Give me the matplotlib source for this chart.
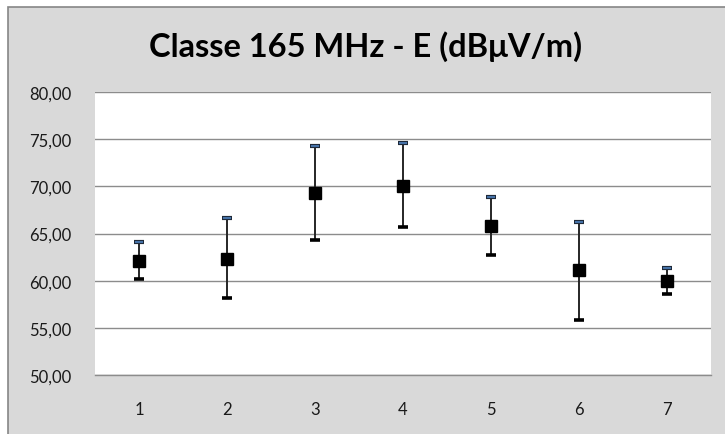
import matplotlib
matplotlib.use("Agg")
import matplotlib.pyplot as plt
from matplotlib.patches import Rectangle
import numpy as np

categories = ["1", "2", "3", "4", "5", "6", "7"]
mean_vals = [62.13, 62.34, 69.29, 70.06, 65.81, 61.13, 59.96]
upper_vals = [64.11, 66.66, 74.26, 74.57, 68.83, 66.17, 61.38]
lower_vals = [60.20, 58.19, 64.36, 65.64, 62.77, 55.85, 58.62]
y_ticks = [50, 55, 60, 65, 70, 75, 80]
y_tick_labels = ["50,00", "55,00", "60,00", "65,00", "70,00", "75,00", "80,00"]
title = "Classe 165 MHz - E (dBμV/m)"

W, H = 725, 435
fig = plt.figure(figsize=(W / 100, H / 100), dpi=100)
fig.patch.set_facecolor("white")

# gray chart panel with border
panel = Rectangle((8 / W, -0.01), 1.02, (H - 8) / H + 0.01, transform=fig.transFigure,
                  facecolor="#D9D9D9", edgecolor="#868686", linewidth=1.2, zorder=-10)
fig.patches.append(panel)

left, right, top, bottom = 95, 711, 93, 376
ax = fig.add_axes([left / W, 1 - bottom / H, (right - left) / W, (bottom - top) / H])
ax.set_zorder(2)
ax.set_facecolor("white")

x = np.arange(1, len(categories) + 1)
mean = np.array(mean_vals)
up = np.array(upper_vals)
lo = np.array(lower_vals)

ax.vlines(x, lo, up, color="#262626", linewidth=1.4, zorder=3)
# lower caps
ax.hlines(lo, x - 0.055, x + 0.055, color="black", linewidth=2.6, zorder=3)
# upper caps (dark outline with blue centre)
ax.hlines(up, x - 0.058, x + 0.058, color="#1F2A3A", linewidth=3.0, zorder=3)
ax.hlines(up, x - 0.048, x + 0.048, color="#4F81BD", linewidth=1.2, zorder=4)
ax.plot(x, mean, linestyle="none", marker="s", markersize=8.0, color="black", zorder=5)

ax.set_xlim(0.5, len(categories) + 0.5)
ax.set_ylim(50, 80)
ax.set_yticks(y_ticks)
ax.set_yticklabels(y_tick_labels)
ax.set_xticks(x)
ax.set_xticklabels(categories)
ax.yaxis.grid(True, color="#8C8C8C", linewidth=1.0)
ax.set_axisbelow(True)
for s in ["left", "right", "top"]:
    ax.spines[s].set_visible(False)
ax.spines["bottom"].set_color("#8C8C8C")
ax.spines["bottom"].set_linewidth(1.0)
ax.tick_params(axis="both", length=0, labelsize=12, labelcolor="#1a1a1a")
ax.tick_params(axis="y", pad=17)
ax.tick_params(axis="x", pad=19)
for lab in ax.get_xticklabels() + ax.get_yticklabels():
    lab.set_fontfamily("Lato")

fig.text(366 / W, 1 - 47 / H, title, ha="center", va="center", fontsize=23.5,
         fontfamily="Lato", fontweight="bold", color="black")

fig.savefig("out.png", dpi=100)
